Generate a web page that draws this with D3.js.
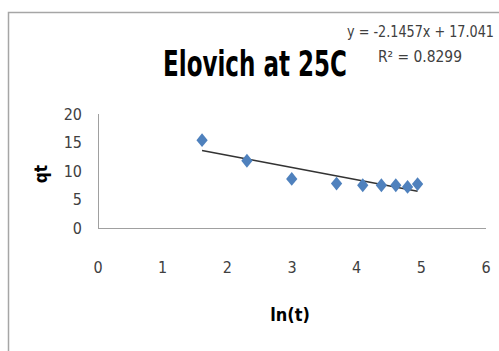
<!DOCTYPE html>
<html>
<head>
<meta charset="utf-8">
<script src="https://cdn.jsdelivr.net/npm/d3@7"></script>
<style>
  body { margin: 0; background: #fff; }
  text { font-family: "Liberation Sans Narrow", "DejaVu Sans Condensed", sans-serif; }
</style>
</head>
<body>
<div id="chart"></div>
<script>
// data: ln(t) vs qt
var lnT = [1.609, 2.303, 2.996, 3.689, 4.094, 4.382, 4.605, 4.787, 4.942];
var qt = [15.4, 11.8, 8.6, 7.8, 7.5, 7.5, 7.5, 7.2, 7.7];
var xTicks = [0, 1, 2, 3, 4, 5, 6];
var yTicks = [0, 5, 10, 15, 20];
var slope = -2.1457, intercept = 17.041;

var W = 499, H = 351;
var margin = { left: 98, right: 13, top: 114, bottom: 123 };
var width = W - margin.left - margin.right,
    height = H - margin.top - margin.bottom;

var svg = d3.select("#chart").append("svg")
    .attr("width", W).attr("height", H);

// chart border (only left and top visible)
svg.append("path")
    .attr("d", "M8.5,351 L8.5,12.5 L499,12.5")
    .attr("fill", "none").attr("stroke", "#a6a6a6").attr("stroke-width", 1.5);

var g = svg.append("g")
    .attr("transform", "translate(" + margin.left + "," + margin.top + ")");

var x = d3.scaleLinear().domain([0, 6]).range([0, width]);
var y = d3.scaleLinear().domain([0, 20]).range([height, 0]);

// axes lines
g.append("line").attr("x1", 0.5).attr("x2", 0.5).attr("y1", 0).attr("y2", height)
    .attr("stroke", "#a0a0a0");
g.append("line").attr("x1", 0).attr("x2", width).attr("y1", height + 0.5).attr("y2", height + 0.5)
    .attr("stroke", "#a0a0a0");

// y tick labels
g.selectAll(".ytick").data(yTicks).enter().append("text")
    .attr("class", "ytick")
    .attr("x", -16).attr("y", function(d){ return y(d); })
    .attr("dy", "0.36em")
    .attr("text-anchor", "end")
    .attr("font-size", "16px").attr("fill", "#404040")
    .text(function(d){ return d; });

// x tick labels (sit well below the axis)
g.selectAll(".xtick").data(xTicks).enter().append("text")
    .attr("class", "xtick")
    .attr("x", function(d){ return x(d); }).attr("y", height + 39)
    .attr("dy", "0.36em")
    .attr("text-anchor", "middle")
    .attr("font-size", "16px").attr("fill", "#404040")
    .text(function(d){ return d; });

// trendline
var xr = d3.extent(lnT);
g.append("line")
    .attr("x1", x(xr[0])).attr("y1", y(slope * xr[0] + intercept))
    .attr("x2", x(xr[1])).attr("y2", y(slope * xr[1] + intercept))
    .attr("stroke", "#333").attr("stroke-width", 1.5);

// diamonds
var diamond = d3.symbol().type(d3.symbolDiamond2).size(100);
g.selectAll(".pt").data(lnT).enter().append("path")
    .attr("class", "pt")
    .attr("d", diamond)
    .attr("transform", function(d, i){ return "translate(" + x(d) + "," + y(qt[i]) + ") scale(0.9,1.1)"; })
    .attr("fill", "#4f81bd");

// title
svg.append("text")
    .attr("x", 163).attr("y", 76)
    .attr("font-size", "36px").attr("font-weight", "bold").attr("fill", "#000")
    .attr("textLength", 184).attr("lengthAdjust", "spacingAndGlyphs")
    .text("Elovich at 25C");

// equation
svg.append("text")
    .attr("x", 347).attr("y", 37)
    .attr("font-size", "15px").attr("fill", "#404040")
    .attr("textLength", 147).attr("lengthAdjust", "spacingAndGlyphs")
    .text("y = -2.1457x + 17.041");
svg.append("text")
    .attr("x", 378).attr("y", 62)
    .attr("font-size", "15px").attr("fill", "#404040")
    .attr("textLength", 84).attr("lengthAdjust", "spacingAndGlyphs")
    .text("R² = 0.8299");

// axis titles
svg.append("text")
    .attr("transform", "translate(47,174) rotate(-90)")
    .attr("text-anchor", "middle")
    .attr("font-size", "17px").attr("font-weight", "bold")
    .text("qt");
svg.append("text")
    .attr("x", 290).attr("y", 321)
    .attr("text-anchor", "middle")
    .attr("font-size", "18px").attr("font-weight", "bold")
    .text("ln(t)");
</script>
</body>
</html>
